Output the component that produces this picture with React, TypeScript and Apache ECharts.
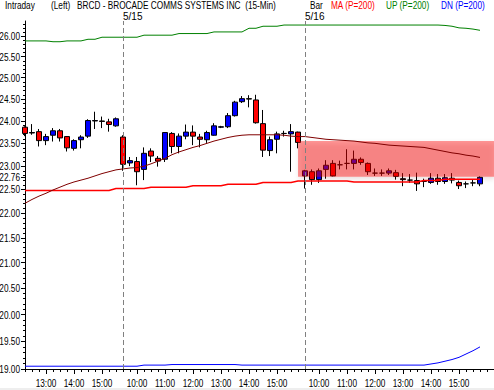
import React, { useEffect, useRef } from "react";
import * as echarts from "echarts";

// ---- categories (15-min bars) ----
const day1Times = ["12:15", "12:30", "12:45", "13:00", "13:15", "13:30", "13:45", "14:00", "14:15", "14:30", "14:45", "15:00", "15:15", "15:30"];
const sessionTimes = ["09:30", "09:45", "10:00", "10:15", "10:30", "10:45", "11:00", "11:15", "11:30", "11:45", "12:00", "12:15", "12:30", "12:45", "13:00", "13:15", "13:30", "13:45", "14:00", "14:15", "14:30", "14:45", "15:00", "15:15", "15:30", "15:45"];
const categories: string[] = [
  ...day1Times.map((t) => "5/14 " + t),
  ...sessionTimes.map((t) => "5/15 " + t),
  ...sessionTimes.map((t) => "5/16 " + t),
  "",
  " ",
];

// ---- OHLC ----
const opens = [23.86, 23.73, 23.76, 23.56, 23.68, 23.78, 23.65, 23.39, 23.58, 23.66, 24.00, 24.00, 23.98, 23.89,
  23.64, 23.07, 23.10, 22.93, 23.33, 23.17, 23.15, 23.72, 23.43, 23.66, 23.75, 23.64, 23.58, 23.68, 23.86, 23.87, 24.12, 24.44, 24.51, 24.48, 23.94, 23.34, 23.59, 23.72, 23.71, 23.75,
  22.79, 22.88, 22.71, 22.93, 23.06, 23.03, 23.06, 23.06, 23.15, 23.06, 22.85, 22.85, 22.85, 22.86, 22.73, 22.70, 22.69, 22.67, 22.65, 22.74, 22.67, 22.74, 22.65, 22.62, 22.64, 22.62];
const closes = [23.72, 23.74, 23.56, 23.65, 23.78, 23.62, 23.40, 23.56, 23.64, 24.01, 24.01, 23.99, 23.92, 24.05,
  23.04, 23.12, 22.88, 23.28, 23.22, 23.11, 23.74, 23.43, 23.66, 23.75, 23.66, 23.59, 23.74, 23.89, 23.87, 24.12, 24.43, 24.51, 24.50, 23.96, 23.35, 23.58, 23.71, 23.72, 23.76, 23.52,
  22.90, 22.71, 22.90, 23.02, 22.79, 23.03, 23.06, 23.15, 23.08, 22.88, 22.85, 22.85, 22.90, 22.78, 22.71, 22.70, 22.62, 22.67, 22.74, 22.67, 22.75, 22.70, 22.58, 22.62, 22.64, 22.76];
const lows = [23.66, 23.69, 23.43, 23.46, 23.54, 23.54, 23.32, 23.34, 23.39, 23.62, 23.82, 23.84, 23.76, 23.87,
  22.90, 23.00, 22.59, 22.70, 23.09, 22.99, 23.09, 23.28, 23.28, 23.59, 23.46, 23.41, 23.51, 23.67, 23.84, 23.84, 24.10, 24.41, 24.31, 23.94, 23.20, 23.22, 23.28, 23.65, 22.88, 23.39,
  22.52, 22.60, 22.64, 22.73, 22.78, 22.93, 22.93, 22.93, 23.03, 22.81, 22.79, 22.79, 22.81, 22.71, 22.57, 22.64, 22.47, 22.55, 22.62, 22.60, 22.62, 22.63, 22.51, 22.53, 22.57, 22.57];
const highs = [23.88, 23.93, 23.82, 23.71, 23.84, 23.82, 23.66, 23.59, 23.68, 24.04, 24.21, 24.10, 24.05, 24.08,
  23.68, 23.20, 23.20, 23.41, 23.39, 23.22, 23.75, 23.75, 23.72, 23.92, 23.90, 23.71, 23.78, 23.95, 23.89, 24.18, 24.46, 24.57, 24.59, 24.60, 24.25, 23.65, 23.76, 23.78, 23.93, 23.76,
  22.92, 22.93, 22.95, 23.13, 23.13, 23.12, 23.37, 23.34, 23.19, 23.08, 22.95, 22.93, 22.95, 22.92, 22.85, 22.83, 22.86, 22.73, 22.85, 22.83, 22.83, 22.85, 22.69, 22.67, 22.71, 22.78];

// ---- overlays ----
const ma200 = [22.48, 22.48, 22.48, 22.48, 22.48, 22.48, 22.48, 22.48, 22.48, 22.48, 22.48, 22.48, 22.48,
  22.52, 22.52, 22.52, 22.52, 22.52, 22.55, 22.55, 22.55, 22.55, 22.55, 22.55, 22.58, 22.58, 22.58, 22.58, 22.58,
  22.61, 22.61, 22.61, 22.61, 22.61, 22.65, 22.65, 22.65, 22.65, 22.65, 22.68, 22.68, 22.68, 22.68, 22.68, 22.68, 22.68, 22.68,
  22.66, 22.66, 22.66, 22.66, 22.66, 22.66, 22.66, 22.66, 22.66, 22.66, 22.69, 22.69, 22.69, 22.72, 22.72, 22.72, 22.72, 22.72, 22.72];
const maShort = [22.21, 22.29, 22.36, 22.42, 22.49, 22.55, 22.61, 22.66, 22.70, 22.74, 22.79, 22.84, 22.88, 22.92,
  22.94, 22.96, 22.97, 23.00, 23.05, 23.11, 23.17, 23.25, 23.31, 23.36, 23.41, 23.45, 23.50, 23.55, 23.59, 23.63, 23.66, 23.68, 23.69, 23.69, 23.69, 23.69, 23.69, 23.68, 23.66, 23.65,
  23.65, 23.63, 23.61, 23.59, 23.58, 23.57, 23.56, 23.55, 23.53, 23.51, 23.50, 23.48, 23.46, 23.45, 23.44, 23.43, 23.42, 23.41, 23.38, 23.35, 23.32, 23.29, 23.27, 23.24, 23.22, 23.19];
const upBand = [25.88, 25.88, 25.88, 25.88, 25.86, 25.86, 25.88, 25.88, 25.88, 25.92, 25.92, 25.97, 25.97, 25.97, 25.97, 25.97, 25.97,
  26.02, 26.02, 26.02, 26.02, 26.02, 26.06, 26.06, 26.06, 26.06, 26.06, 26.10, 26.10, 26.10, 26.10, 26.10, 26.19, 26.19, 26.24, 26.24, 26.24,
  26.27, 26.27, 26.27, 26.27, 26.27, 26.27, 26.27, 26.27, 26.27, 26.27, 26.27, 26.27, 26.27, 26.27, 26.27, 26.27, 26.27, 26.27, 26.27, 26.27, 26.27, 26.27, 26.27,
  26.26, 26.24, 26.20, 26.19, 26.17, 26.14];
const dnBand = [19.05, 19.05, 19.05, 19.05, 19.05, 19.05, 19.05, 19.05, 19.05, 19.05, 19.05, 19.05, 19.05, 19.05, 19.05, 19.05, 19.05,
  19.07, 19.07, 19.07, 19.07, 19.08, 19.08, 19.08, 19.08, 19.08, 19.08, 19.08, 19.08, 19.08, 19.08,
  19.07, 19.07, 19.07, 19.07, 19.07, 19.07, 19.07, 19.07, 19.07, 19.07, 19.07, 19.07, 19.07, 19.07, 19.07, 19.07, 19.07, 19.07, 19.07, 19.07, 19.07, 19.07, 19.07, 19.07, 19.07, 19.07, 19.07,
  19.09, 19.11, 19.14, 19.17, 19.21, 19.27, 19.33, 19.40];

// ---- axis ticks / labels ----
const yLabelValues = [19, 19.5, 20, 20.5, 21, 21.5, 22, 22.5, 22.76, 23, 23.5, 24, 24.5, 25, 25.5, 26];
const yMin = 19;
const yMax = 26.37;
const dayMarks = [
  { index: 14, label: "5/15" },
  { index: 40, label: "5/16" },
];
const zone = { fromIndex: 39, top: 23.55, bottom: 22.77 };
const headerItems = [
  { text: "Intraday", color: "#000000", x: 5 },
  { text: "(Left)", color: "#000000", x: 51 },
  { text: "BRCD - BROCADE COMMS SYSTEMS INC  (15-Min)", color: "#000000", x: 77 },
  { text: "Bar", color: "#000000", x: 310 },
  { text: "MA (P=200)", color: "#ff0000", x: 331 },
  { text: "UP (P=200)", color: "#008000", x: 386 },
  { text: "DN (P=200)", color: "#0000ff", x: 441 },
];

const FONT = "'Liberation Sans', Arial, sans-serif";
const NARROW = 0.75;
const FS = 11;

export default function App() {
  const ref = useRef<HTMLDivElement>(null);
  useEffect(() => {
    if (!ref.current) return;
    const chart = echarts.init(ref.current, null, { renderer: "svg" });
    const minorTicks: number[] = [];
    for (let k = 190; k <= 263; k++) minorTicks.push(k / 10);
    const candleData = opens.map((o, i) => [o, closes[i], lows[i], highs[i]]);
    const isHour = (v: string) => typeof v === "string" && v.endsWith(":00");
    const hourTick = (_i: number, v: string) => isHour(v);

    const headerGraphics = headerItems.map((h) => ({
      type: "text",
      x: h.x,
      y: 0,
      scaleX: NARROW,
      style: { text: h.text, fill: h.color, font: `${FS}px ${FONT}`, verticalAlign: "top" },
    }));
    const stripGraphic = { type: "rect", shape: { x: 0, y: 388, width: 494, height: 2 }, style: { fill: "#eeeeee" } };

    const option: any = {
      animation: false,
      backgroundColor: "#ffffff",
      grid: { left: 25, right: 0, top: 21, bottom: 21, containLabel: false, outerBoundsMode: "none" },
      xAxis: [
        {
          type: "category",
          data: categories,
          boundaryGap: false,
          position: "bottom",
          axisLine: { onZero: false, lineStyle: { color: "#000", width: 1 } },
          axisTick: { show: true, interval: 0, length: 3, lineStyle: { color: "#000" } },
          axisLabel: { show: false },
          splitLine: { show: false },
        },
        {
          type: "category",
          data: categories,
          boundaryGap: false,
          position: "bottom",
          axisLine: { show: false, onZero: false },
          axisTick: { show: true, interval: hourTick, length: 5, lineStyle: { color: "#000" } },
          axisLabel: { show: false },
          splitLine: { show: false },
        },
      ],
      yAxis: [
        {
          type: "log",
          min: yMin,
          max: yMax,
          position: "left",
          axisLine: { show: true, lineStyle: { color: "#000" } },
          axisTick: { show: true, customValues: minorTicks, length: 2, lineStyle: { color: "#000" } },
          axisLabel: { show: false },
          splitLine: { show: false },
          minorTick: { show: false },
        },
        {
          type: "log",
          min: yMin,
          max: yMax,
          position: "left",
          axisLine: { show: false },
          axisTick: { show: true, customValues: yLabelValues, length: 4, lineStyle: { color: "#000" } },
          axisLabel: { show: false },
          splitLine: { show: false },
        },
      ],
      graphic: [...headerGraphics, stripGraphic],
      series: [
        {
          type: "candlestick",
          name: "BRCD",
          data: candleData,
          xAxisIndex: 0,
          yAxisIndex: 0,
          barWidth: 5,
          z: 2,
          itemStyle: { color: "#0000ff", color0: "#ff0000", borderColor: "#000000", borderColor0: "#000000", borderWidth: 1 },
          markLine: {
            symbol: ["none", "none"],
            silent: true,
            lineStyle: { color: "#808080", type: [5, 3], width: 1 },
            label: { show: true, position: "end", formatter: "{b}", align: "left", color: "#000", fontSize: 10, fontFamily: FONT, distance: 0 },
            data: dayMarks.map((d) => ({ xAxis: categories[d.index], name: d.label })),
          },
        },
        { type: "line", name: "MA", data: ma200, showSymbol: false, z: 4, lineStyle: { color: "#ff0000", width: 1.5 }, itemStyle: { color: "#ff0000" } },
        { type: "line", name: "MA2", data: maShort, showSymbol: false, z: 4, lineStyle: { color: "#800000", width: 1 }, itemStyle: { color: "#800000" } },
        { type: "line", name: "UP", data: upBand, showSymbol: false, z: 4, lineStyle: { color: "#008000", width: 1 }, itemStyle: { color: "#008000" } },
        {
          type: "line",
          name: "DN",
          data: dnBand,
          showSymbol: false,
          z: 4,
          lineStyle: { color: "#0000ff", width: 1 },
          itemStyle: { color: "#0000ff" },
          markArea: {
            silent: true,
            z: 3,
            itemStyle: { color: "rgba(255,0,0,0.4)", shadowBlur: 5, shadowColor: "rgba(90,0,0,0.35)", shadowOffsetX: 1, shadowOffsetY: 2 },
            data: [[
              { xAxis: categories[zone.fromIndex], yAxis: zone.top },
              { xAxis: categories[categories.length - 1], yAxis: zone.bottom },
            ]],
          },
        },
      ],
    };
    chart.setOption(option);

    // axis labels placed through the axes' own scales
    const yLabelGraphics = yLabelValues.map((v) => {
      const py = chart.convertToPixel({ yAxisIndex: 0 }, v) as unknown as number;
      return {
        type: "text",
        x: 20,
        y: py,
        scaleX: NARROW,
        style: { text: v.toFixed(2), fill: "#000", font: `${FS}px ${FONT}`, align: "right", verticalAlign: "middle" },
      };
    });
    const xLabelGraphics: any[] = [];
    categories.forEach((c) => {
      if (!isHour(c)) return;
      const px = chart.convertToPixel({ xAxisIndex: 0 }, c) as unknown as number;
      xLabelGraphics.push({
        type: "text",
        x: px,
        y: 383,
        scaleX: NARROW,
        style: { text: c.slice(-5), fill: "#000", font: `${FS}px ${FONT}`, align: "center", verticalAlign: "middle" },
      });
    });
    chart.setOption({ graphic: [...headerGraphics, stripGraphic, ...yLabelGraphics, ...xLabelGraphics] });
    return () => chart.dispose();
  }, []);
  return <div ref={ref} style={{ position: "fixed", left: 0, top: 0, width: 494, height: 390 }} />;
}
